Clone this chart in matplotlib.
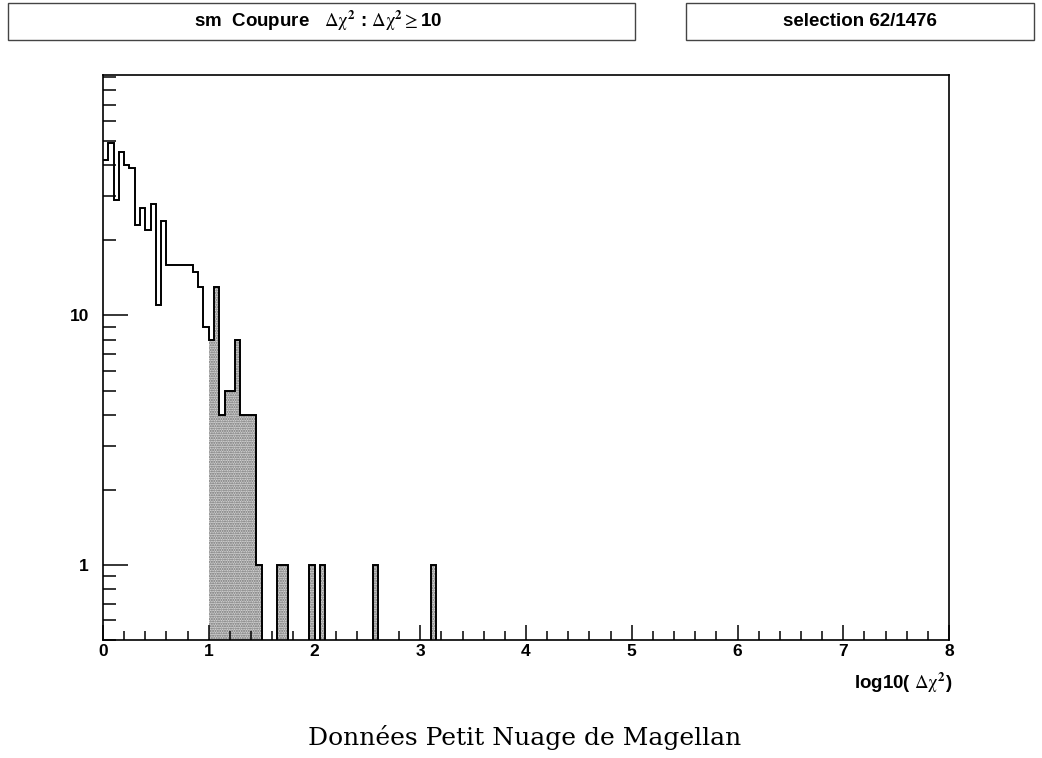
import numpy as np
import matplotlib
matplotlib.use('Agg')
import matplotlib.pyplot as plt
from matplotlib.patches import Rectangle
from matplotlib.ticker import LogLocator, NullFormatter, FixedLocator, MultipleLocator

plt.rcParams['font.family'] = ['Liberation Sans', 'DejaVu Sans']
plt.rcParams['mathtext.fontset'] = 'stix'
plt.rcParams['hatch.linewidth'] = 1.0

# histogram of log10(dchi2), bins of 0.05 starting at 0
bin_width = 0.05
all_counts = [42, 49, 29, 45, 40, 39, 23, 27, 22, 28,
              11, 24, 16, 16, 16, 16, 16, 15, 13, 9,
              8, 13, 4, 5, 5, 8, 4, 4, 4, 1,
              0, 0, 0, 1, 1, 0, 0, 0, 0, 1,
              0, 1, 0, 0, 0, 0, 0, 0, 0, 0,
              0, 1, 0, 0, 0, 0, 0, 0, 0, 0,
              0, 0, 1]
# selected events (dchi2 >= 10), starting at bin 20 (x = 1.0)
sel_start = 20
sel_counts = [8, 13, 4, 5, 5, 8, 4, 4, 4, 1,
              0, 0, 0, 1, 1, 0, 0, 0, 0, 1,
              0, 1, 0, 0, 0, 0, 0, 0, 0, 0,
              0, 1, 0, 0, 0, 0, 0, 0, 0, 0,
              0, 0, 1]

n_bins = 160
counts = np.zeros(n_bins)
counts[:len(all_counts)] = all_counts
edges = np.arange(n_bins + 1) * bin_width

sel = np.array(sel_counts, dtype=float)
sel_edges = (sel_start + np.arange(len(sel) + 1)) * bin_width

fig = plt.figure(figsize=(10.42, 7.58), dpi=100)
ax = fig.add_axes([103/1042, 1 - 640/758, 846/1042, 565/758])
ax.set_yscale('log')

ax.stairs(sel, sel_edges, fill=True, baseline=0.01, facecolor='#d2d2d2',
          edgecolor='#6e6e6e', linewidth=0, hatch='.......')
ax.stairs(counts, edges, baseline=None, color='black', linewidth=1.4)

ax.set_xlim(0, 8)
ax.set_ylim(0.5, 92)

ax.xaxis.set_major_locator(MultipleLocator(1))
ax.xaxis.set_minor_locator(MultipleLocator(0.2))
ax.yaxis.set_major_locator(FixedLocator([1, 10]))
ax.yaxis.set_major_formatter(plt.FuncFormatter(lambda v, p: '%d' % v))
ax.yaxis.set_minor_locator(LogLocator(base=10, subs=np.arange(2, 10)))
ax.yaxis.set_minor_formatter(NullFormatter())

ax.tick_params(axis='x', which='major', direction='in', length=11, width=1.1,
               labelsize=12.5, pad=3)
ax.tick_params(axis='x', which='minor', direction='in', length=6.5, width=1.1)
ax.tick_params(axis='y', which='major', direction='in', length=18, width=1.1,
               labelsize=12.5, pad=10)
ax.tick_params(axis='y', which='minor', direction='in', length=9.5, width=1.1)
for lab in ax.get_xticklabels() + ax.get_yticklabels():
    lab.set_fontweight('bold')
for s in ax.spines.values():
    s.set_linewidth(1.2)

# header boxes
fig.patches.append(Rectangle((8/1042, 1 - 40/758), 627/1042, 37/758,
                             transform=fig.transFigure, fill=False,
                             edgecolor='#444444', linewidth=1))
fig.patches.append(Rectangle((686/1042, 1 - 40/758), 348/1042, 37/758,
                             transform=fig.transFigure, fill=False,
                             edgecolor='#444444', linewidth=1))
fig.text(318/1042, 1 - 21/758,
         r'sm  Coupure   $\mathrm{\Delta\chi}^{\mathbf{2}}$ : $\mathrm{\Delta\chi}^{\mathbf{2}}\geq$10',
         ha='center', va='center', fontsize=13.5, fontweight='bold')
fig.text(860/1042, 1 - 21/758, 'selection 62/1476',
         ha='center', va='center', fontsize=13.5, fontweight='bold')

fig.text(952/1042, 1 - 683/758, r'log10( $\mathrm{\Delta\chi}^{\mathbf{2}}$)',
         ha='right', va='center', fontsize=13.5, fontweight='bold')

fig.text(525/1042, 1 - 737/758, 'Données Petit Nuage de Magellan',
         ha='center', va='center', fontsize=18, family='DejaVu Serif')

fig.savefig('out.png', dpi=100)
